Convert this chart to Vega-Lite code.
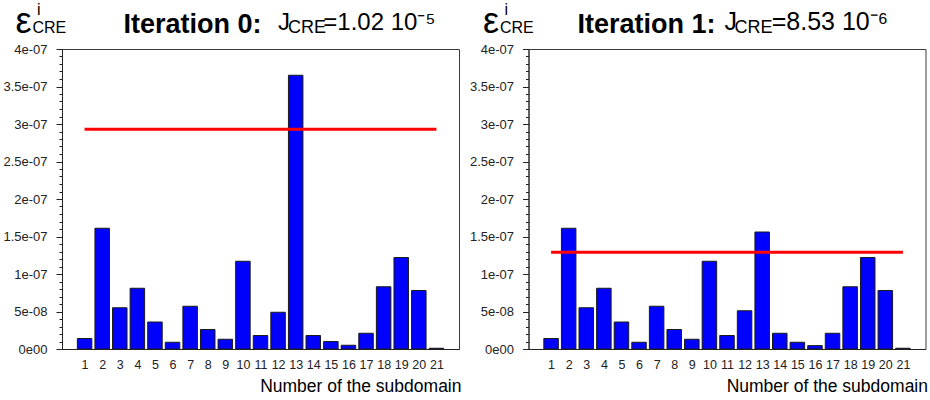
{
  "$schema": "https://vega.github.io/schema/vega-lite/v6.json",
  "padding": {"left": 2, "top": 1, "right": 5, "bottom": 5},
  "background": "white",
  "bounds": "flush",
  "spacing": 69.5,
  "config": {
    "font": "Liberation Sans",
    "view": {"stroke": "#3a3a3a", "strokeWidth": 1},
    "axis": {"labelFont": "Liberation Sans", "titleFont": "Liberation Sans", "labelColor": "#222", "titleColor": "#000", "grid": false}
  },
  "datasets": {
    "iter0": [
      {"subdomain": 1, "error": 1.4e-8}, {"subdomain": 2, "error": 1.61e-7}, {"subdomain": 3, "error": 5.5e-8},
      {"subdomain": 4, "error": 8.1e-8}, {"subdomain": 5, "error": 3.6e-8}, {"subdomain": 6, "error": 9e-9},
      {"subdomain": 7, "error": 5.7e-8}, {"subdomain": 8, "error": 2.6e-8}, {"subdomain": 9, "error": 1.3e-8},
      {"subdomain": 10, "error": 1.17e-7}, {"subdomain": 11, "error": 1.8e-8}, {"subdomain": 12, "error": 4.9e-8},
      {"subdomain": 13, "error": 3.65e-7}, {"subdomain": 14, "error": 1.8e-8}, {"subdomain": 15, "error": 1.0e-8},
      {"subdomain": 16, "error": 5e-9}, {"subdomain": 17, "error": 2.1e-8}, {"subdomain": 18, "error": 8.3e-8},
      {"subdomain": 19, "error": 1.22e-7}, {"subdomain": 20, "error": 7.8e-8}, {"subdomain": 21, "error": 1e-9}
    ],
    "iter1": [
      {"subdomain": 1, "error": 1.4e-8}, {"subdomain": 2, "error": 1.61e-7}, {"subdomain": 3, "error": 5.5e-8},
      {"subdomain": 4, "error": 8.1e-8}, {"subdomain": 5, "error": 3.6e-8}, {"subdomain": 6, "error": 9e-9},
      {"subdomain": 7, "error": 5.7e-8}, {"subdomain": 8, "error": 2.6e-8}, {"subdomain": 9, "error": 1.3e-8},
      {"subdomain": 10, "error": 1.17e-7}, {"subdomain": 11, "error": 1.8e-8}, {"subdomain": 12, "error": 5.1e-8},
      {"subdomain": 13, "error": 1.56e-7}, {"subdomain": 14, "error": 2.1e-8}, {"subdomain": 15, "error": 9e-9},
      {"subdomain": 16, "error": 4.5e-9}, {"subdomain": 17, "error": 2.1e-8}, {"subdomain": 18, "error": 8.3e-8},
      {"subdomain": 19, "error": 1.22e-7}, {"subdomain": 20, "error": 7.8e-8}, {"subdomain": 21, "error": 1e-9}
    ],
    "line0": [{"start": 1, "end": 21, "level": 2.93e-7}],
    "line1": [{"start": 1, "end": 21, "level": 1.29e-7}]
  },
  "hconcat": [
    {
      "width": 397,
      "height": 300,
      "title": {
        "text": "J\u00a0\u00a0\u00a0\u00a0\u00a0=1.02 10\u207B\u2075",
        "subtitle": "\u200B\u00a0\u00a0CRE",
        "anchor": "start",
        "frame": "group",
        "dx": 216,
        "dy": 35.2,
        "offset": 0,
        "font": "Liberation Sans",
        "fontSize": 24,
        "fontWeight": "normal",
        "color": "#000",
        "subtitleFont": "Liberation Sans",
        "subtitleFontSize": 18,
        "subtitleColor": "#000",
        "subtitlePadding": -16
      },
      "layer": [
        {
          "data": {"name": "iter0"},
          "mark": {"type": "bar", "orient": "vertical", "size": 14.5, "fill": "#0000ff", "stroke": "#1a1a1a", "strokeWidth": 1},
          "encoding": {
            "x": {
              "field": "subdomain", "type": "quantitative",
              "scale": {"domain": [0, 22], "nice": false, "zero": false},
              "axis": {
                "orient": "bottom", "values": [1,2,3,4,5,6,7,8,9,10,11,12,13,14,15,16,17,18,19,20,21],
                "format": "d", "ticks": false, "labelPadding": 9, "labelFontSize": 12.5, "labelFlush": false,
                "domainColor": "#222", "labelOverlap": false,
                "title": "Number of the subdomain", "titleFontSize": 17.5, "titleFontWeight": "normal",
                "titleX": 399, "titleY": 42, "titleAlign": "right", "titleBaseline": "alphabetic"
              }
            },
            "y": {
              "field": "error", "type": "quantitative",
              "scale": {"domain": [0, 4e-7], "nice": false},
              "axis": {
                "orient": "left", "tickCount": 40, "labelOverlap": false, "labelFontSize": 13, "labelPadding": 9,
                "labelExpr": "datum.value == 0 ? '0e00' : (round(datum.value*1e8) % 5 != 0 ? '' : (round(datum.value*1e8) < 10 ? '5e-08' : format(datum.value*1e7, '~g') + 'e-07'))",
                "tickSize": {"condition": {"test": "round(datum.value*1e8) % 5 == 0", "value": 6}, "value": 3},
                "tickColor": "#222", "domainColor": "#222",
                "title": "\u03b5", "titleFontSize": 36, "titleFontWeight": "normal", "titleAngle": 0,
                "titleX": -47, "titleY": -16.5, "titleAlign": "left", "titleBaseline": "alphabetic"
              }
            }
          }
        },
        {
          "data": {"name": "line0"},
          "mark": {"type": "rule", "color": "#ff0000", "strokeWidth": 3},
          "encoding": {
            "x": {
              "field": "start", "type": "quantitative", "scale": {"domain": [0, 22], "nice": false, "zero": false},
              "axis": {
                "orient": "top", "domain": false, "ticks": false, "labels": false,
                "title": "Iteration 0:", "titleFontSize": 27, "titleFontWeight": "bold",
                "titleX": 61, "titleY": -16.5, "titleAlign": "left", "titleBaseline": "alphabetic"
              }
            },
            "x2": {"field": "end"},
            "y": {
              "field": "level", "type": "quantitative", "scale": {"domain": [0, 4e-7], "nice": false},
              "axis": {
                "orient": "right", "domain": false, "ticks": false, "labels": false,
                "title": ["\u200B\u00a0i", "CRE"], "titleFontSize": 16, "titleFontWeight": "normal", "titleAngle": 0,
                "titleLineHeight": 18, "titleX": -427, "titleY": -34.5, "titleAlign": "left", "titleBaseline": "alphabetic"
              }
            }
          }
        }
      ],
      "resolve": {"axis": {"x": "independent", "y": "independent"}}
    },
    {
      "width": 397,
      "height": 300,
      "title": {
        "text": "J\u00a0\u00a0\u00a0\u00a0\u00a0=8.53 10\u207B\u2076",
        "subtitle": "\u200B\u00a0\u00a0CRE",
        "anchor": "start",
        "frame": "group",
        "dx": 196,
        "dy": 35.2,
        "offset": 0,
        "font": "Liberation Sans",
        "fontSize": 25,
        "fontWeight": "normal",
        "color": "#000",
        "subtitleFont": "Liberation Sans",
        "subtitleFontSize": 18,
        "subtitleColor": "#000",
        "subtitlePadding": -16.3
      },
      "layer": [
        {
          "data": {"name": "iter1"},
          "mark": {"type": "bar", "orient": "vertical", "size": 14.5, "fill": "#0000ff", "stroke": "#1a1a1a", "strokeWidth": 1},
          "encoding": {
            "x": {
              "field": "subdomain", "type": "quantitative",
              "scale": {"domain": [0, 22], "nice": false, "zero": false},
              "axis": {
                "orient": "bottom", "values": [1,2,3,4,5,6,7,8,9,10,11,12,13,14,15,16,17,18,19,20,21],
                "format": "d", "ticks": false, "labelPadding": 9, "labelFontSize": 12.5, "labelFlush": false,
                "domainColor": "#222", "labelOverlap": false,
                "title": "Number of the subdomain", "titleFontSize": 17.5, "titleFontWeight": "normal",
                "titleX": 399, "titleY": 42, "titleAlign": "right", "titleBaseline": "alphabetic"
              }
            },
            "y": {
              "field": "error", "type": "quantitative",
              "scale": {"domain": [0, 4e-7], "nice": false},
              "axis": {
                "orient": "left", "tickCount": 40, "labelOverlap": false, "labelFontSize": 13, "labelPadding": 9,
                "labelExpr": "datum.value == 0 ? '0e00' : (round(datum.value*1e8) % 5 != 0 ? '' : (round(datum.value*1e8) < 10 ? '5e-08' : format(datum.value*1e7, '~g') + 'e-07'))",
                "tickSize": {"condition": {"test": "round(datum.value*1e8) % 5 == 0", "value": 6}, "value": 3},
                "tickColor": "#222", "domainColor": "#222",
                "title": "\u03b5", "titleFontSize": 36, "titleFontWeight": "normal", "titleAngle": 0,
                "titleX": -46, "titleY": -16.5, "titleAlign": "left", "titleBaseline": "alphabetic"
              }
            }
          }
        },
        {
          "data": {"name": "line1"},
          "mark": {"type": "rule", "color": "#ff0000", "strokeWidth": 3},
          "encoding": {
            "x": {
              "field": "start", "type": "quantitative", "scale": {"domain": [0, 22], "nice": false, "zero": false},
              "axis": {
                "orient": "top", "domain": false, "ticks": false, "labels": false,
                "title": "Iteration 1:", "titleFontSize": 27, "titleFontWeight": "bold",
                "titleX": 48.5, "titleY": -16.5, "titleAlign": "left", "titleBaseline": "alphabetic"
              }
            },
            "x2": {"field": "end"},
            "y": {
              "field": "level", "type": "quantitative", "scale": {"domain": [0, 4e-7], "nice": false},
              "axis": {
                "orient": "right", "domain": false, "ticks": false, "labels": false,
                "title": ["\u200B\u00a0i", "CRE"], "titleFontSize": 16, "titleFontWeight": "normal", "titleAngle": 0,
                "titleLineHeight": 18, "titleX": -426, "titleY": -34.5, "titleAlign": "left", "titleBaseline": "alphabetic"
              }
            }
          }
        }
      ],
      "resolve": {"axis": {"x": "independent", "y": "independent"}}
    }
  ]
}
